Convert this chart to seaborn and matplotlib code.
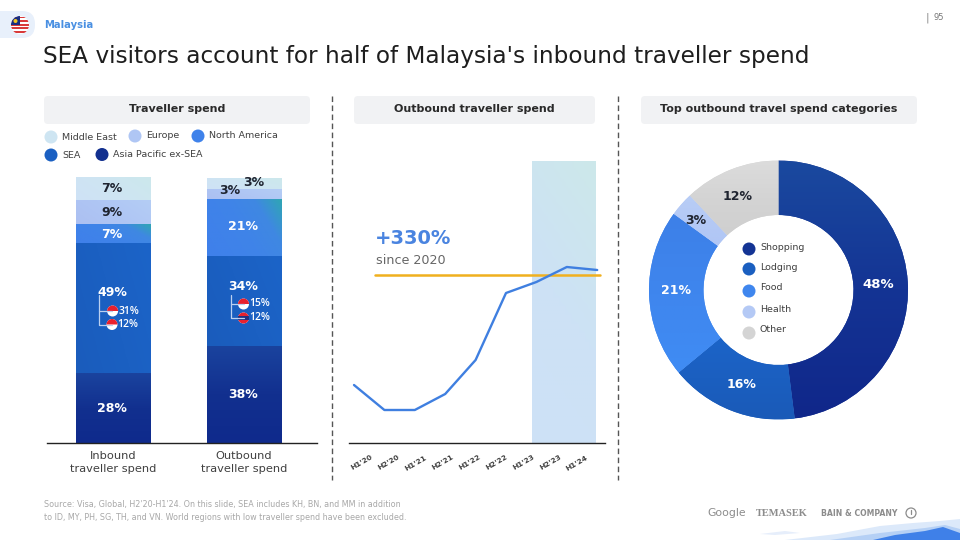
import matplotlib
matplotlib.use("Agg")
import matplotlib.pyplot as plt
from matplotlib.colors import LinearSegmentedColormap
from matplotlib.patches import Circle, FancyBboxPatch, Wedge, Polygon, Rectangle
import numpy as np
import pandas as pd
import seaborn as sns

# stacked bars, heights (labels are the printed numbers)
bar_cats = ["Inbound\ntraveller spend", "Outbound\ntraveller spend"]
regions = ["Asia Pacific ex-SEA", "SEA", "North America", "Europe", "Middle East"]
inbound = [26.3, 48.9, 7.1, 9.0, 8.7]
outbound = [36.5, 33.8, 21.4, 3.8, 4.1]
inbound_labels = ["28%", "49%", "7%", "9%", "7%"]
outbound_labels = ["38%", "34%", "21%", "3%", "3%"]

# line chart, index values
periods = ["H1'20", "H2'20", "H1'21", "H2'21", "H1'22", "H2'22", "H1'23", "H2'23", "H1'24"]
spend = [58, 33, 33, 49, 83, 150, 161, 176, 173]

# donut
categories = ["Shopping", "Lodging", "Food", "Health", "Other"]
shares = [48, 16, 21, 3, 12]

sns.set_theme(style="white")
plt.rcParams["font.family"] = ["DejaVu Sans"]

region_colors = {
    "Asia Pacific ex-SEA": ["#0F2A8C", "#12308F", "#1A439E"],
    "SEA": ["#1A5CBC", "#1B60C2", "#1C64C8"],
    "North America": ["#3F80EA", "#3F82EA", "#3F84E8", "#3F88E2", "#2FA6B4"],
    "Europe": ["#ACC0F2", "#AFC6F4", "#B4CDF5"],
    "Middle East": ["#CFE2F6", "#CEE5F2", "#CCE8EC"],
}
donut_colors = [
    ["#10278A", "#143494", "#1A499F"],
    ["#1A5AB8", "#1B5FC0", "#1C64C8"],
    ["#3F8CF4", "#3F86EE", "#3D80E8"],
    ["#B0C6F5", "#B4C9F5", "#B8CDF6"],
    ["#CFCFCF", "#D4D4D4", "#DCDCDC"],
]
dark = "#1F2430"
gray = "#404040"

fig = plt.figure(figsize=(9.6, 5.4), dpi=100)
W, H = 960, 540


def px_axes(x0, y0, x1, y1):
    # axes placed by pixel box, y measured from the top
    ax = fig.add_axes([x0 / W, 1 - y1 / H, (x1 - x0) / W, (y1 - y0) / H])
    ax.patch.set_alpha(0)
    return ax


def gradient(ax, patch, colors, angle=90):
    # fills a patch with a linear gradient, angle 0 = left to right, 90 = bottom to top
    bb = patch.get_path().get_extents(patch.get_patch_transform())
    xx, yy = np.meshgrid(np.linspace(0, 1, 64), np.linspace(0, 1, 64))
    a = np.deg2rad(angle)
    t = xx * np.cos(a) + yy * np.sin(a)
    t = (t - t.min()) / (t.max() - t.min())
    cmap = LinearSegmentedColormap.from_list("g", colors)
    xl, yl = ax.get_xlim(), ax.get_ylim()
    im = ax.imshow(t, cmap=cmap, origin="lower", aspect="auto", vmin=0, vmax=1,
                   extent=[bb.x0, bb.x1, bb.y0, bb.y1], zorder=2)
    im.set_clip_path(patch)
    ax.set_xlim(xl)
    ax.set_ylim(yl)
    return im


# ---- stacked bars
ax1 = px_axes(47, 170, 317, 443)
bottoms = np.zeros(2)
for i, reg in enumerate(regions):
    vals = [inbound[i], outbound[i]]
    part = pd.DataFrame({"cat": bar_cats, "val": vals})
    n_before = len(ax1.patches)
    sns.barplot(data=part, x="cat", y="val", bottom=bottoms, color="#1B60C2", width=0.565,
                errorbar=None, ax=ax1, saturation=1)
    ax1.set_xlim(-0.504, 1.557)
    ax1.set_ylim(0, 273 / 2.66)
    for p in ax1.patches[n_before:]:
        p.set_linewidth(0)
        gradient(ax1, p, region_colors[reg], 90 if i == 0 else 25)
    bottoms = bottoms + np.array(vals)
ax1.set_xlabel("")
ax1.set_ylabel("")
ax1.set_yticks([])
ax1.set_xticks([0, 1])
ax1.set_xticklabels(bar_cats, fontsize=8.2, color=gray, linespacing=1.35)
ax1.tick_params(axis="x", length=0, pad=6)
for s in ["top", "right", "left"]:
    ax1.spines[s].set_visible(False)
ax1.spines["bottom"].set_color("#222222")
ax1.spines["bottom"].set_linewidth(1)

# ---- line chart
ax2 = px_axes(349, 150, 605, 443)
x_pos = np.arange(len(periods))
ax2.set_xlim((349 - 354) / 30.4, (605 - 354) / 30.4)
ax2.set_ylim(0, 293)
xl, yl = ax2.get_xlim(), ax2.get_ylim()
xx, yy = np.meshgrid(np.linspace(0, 1, 32), np.linspace(0, 1, 32))
band_cmap = LinearSegmentedColormap.from_list("band", ["#CDE1F7", "#CDE2F5", "#CCE8EA"])
ax2.imshow(0.25 * xx + 0.75 * yy, cmap=band_cmap, origin="lower", aspect="auto",
           extent=[5.855, 7.96, 0, 282], vmin=0, vmax=1, zorder=1)
ax2.set_xlim(xl)
ax2.set_ylim(yl)
sns.lineplot(x=x_pos, y=spend, color="#3F7FE0", linewidth=1.7, ax=ax2, zorder=4)
ax2.plot([(375 - 354) / 30.4, (600 - 354) / 30.4], [168, 168], color="#F0B01E", lw=1.8, zorder=3)
ax2.set_yticks([])
ax2.set_xticks(0.26 + x_pos * 26.9 / 30.4)
ax2.set_xticklabels(periods, rotation=30, fontsize=5.3, color=gray, fontweight="bold", ha="center")
ax2.tick_params(axis="x", length=0, pad=8)
for s in ["top", "right", "left"]:
    ax2.spines[s].set_visible(False)
ax2.spines["bottom"].set_color("#222222")
ax2.spines["bottom"].set_linewidth(1)
ax2.set_xlabel("")
ax2.set_ylabel("")

# ---- donut
ax3 = px_axes(649, 160.5, 908, 419.5)
wedges, _ = ax3.pie(shares, startangle=90, counterclock=False, radius=1,
                    wedgeprops=dict(width=1 - 75 / 129.5, linewidth=0), colors=[c[1] for c in donut_colors])
ax3.set_xlim(-1, 1)
ax3.set_ylim(-1, 1)
for w, c in zip(wedges, donut_colors):
    gradient(ax3, w, c, 90)

# ---- page furniture, in pixel coordinates
ov = fig.add_axes([0, 0, 1, 1], zorder=10)
ov.set_xlim(0, W)
ov.set_ylim(H, 0)
ov.axis("off")
ov.patch.set_alpha(0)


def txt(x, y, s, size=8, color=gray, weight="normal", ha="left", va="center", **kw):
    return ov.text(x, y, s, fontsize=size, color=color, fontweight=weight, ha=ha, va=va, **kw)


def half_flag(x, y, r, top="#E8212E", bottom="white"):
    ov.add_patch(Circle((x, y), r, fc=bottom, ec="none"))
    ov.add_patch(Wedge((x, y), r, 180, 360, fc=top, ec="none"))


# top left tag
ov.add_patch(FancyBboxPatch((-12, 11), 47, 27, boxstyle="round,pad=0,rounding_size=13",
                            fc="#E8F0FB", ec="none"))
flag_clip = Circle((20, 25), 9, fc="white", ec="none")
ov.add_patch(flag_clip)
for k in range(5):
    stripe = Rectangle((10, 16.5 + k * 3.6), 20, 1.8, fc="#D93A3A", ec="none")
    ov.add_patch(stripe)
    stripe.set_clip_path(flag_clip)
ov.add_patch(Rectangle((11, 16), 9, 9, fc="#1B2E80", ec="none", clip_path=flag_clip))
ov.add_patch(Circle((15.5, 21), 2, fc="#F3C623", ec="none"))
txt(44, 25, "Malaysia", size=7.2, color="#4A90E2", weight="bold")

txt(43, 57, "SEA visitors account for half of Malaysia's inbound traveller spend", size=16.7, color="#1E1E1E")
txt(927.5, 18, "|", size=8, color="#888888", ha="center")
txt(934, 18, "95", size=6, color="#777777")

# section headers and dashed dividers
for x0, x1, label in [(44, 310, "Traveller spend"), (354, 595, "Outbound traveller spend"),
                      (641, 917, "Top outbound travel spend categories")]:
    ov.add_patch(FancyBboxPatch((x0, 96), x1 - x0, 28, boxstyle="round,pad=0,rounding_size=4",
                                fc="#F1F2F4", ec="none"))
    txt((x0 + x1) / 2, 109, label, size=8, color="#2A2A2A", weight="bold", ha="center")
for x in [332, 618]:
    ov.plot([x, x], [96, 480], color="#555555", lw=1, ls=(0, (4, 2.5)))

# region legend
legend_pos = {"Middle East": (51, 137), "Europe": (135, 136), "North America": (198, 136),
              "SEA": (51, 155), "Asia Pacific ex-SEA": (102, 154.5)}
for reg, (x, y) in legend_pos.items():
    ov.add_patch(Circle((x, y), 6.5, fc=region_colors[reg][1], ec="none"))
    txt(x + 11, y, reg, size=6.8)

# bar value labels
light = {"Europe", "Middle East"}
in_y = [408, 293, 234, 212, 189]
out_y = [395, 286, 227, 191, 183]
out_x = [243, 243, 243, 230, 254]
for i, reg in enumerate(regions):
    c = dark if reg in light else "white"
    txt(112, in_y[i], inbound_labels[i], size=9, color=c, weight="bold", ha="center")
    txt(out_x[i], out_y[i], outbound_labels[i], size=9, color=c, weight="bold", ha="center")

# SEA breakdown inside the bars
for x0, top, flags in [(99, 295, [(112.6, 311, "31%", "half"), (112, 324.5, "12%", "half")]),
                       (230.5, 295, [(243.5, 304, "15%", "half"), (243.5, 318, "12%", "th")])]:
    ov.plot([x0, x0, x0 + 13], [top, flags[1][1], flags[1][1]], color="#BBD0F0", lw=0.9)
    ov.plot([x0, x0 + 13], [flags[0][1], flags[0][1]], color="#BBD0F0", lw=0.9)
    for fx, fy, lab, kind in flags:
        if kind == "half":
            half_flag(fx, fy, 5.5)
        else:
            ov.add_patch(Circle((fx, fy), 5.5, fc="white", ec="none"))
            ov.add_patch(Wedge((fx, fy), 5.5, 200, 340, fc="#E8212E", ec="none"))
            ov.add_patch(Wedge((fx, fy), 5.5, 20, 160, fc="#E8212E", ec="none"))
            ov.add_patch(Polygon([(fx - 5.3, fy - 1.8), (fx + 5.3, fy - 1.8), (fx + 5.3, fy + 1.8), (fx - 5.3, fy + 1.8)],
                                 fc="#24307F", ec="none"))
        txt(fx + 5.5, fy, lab, size=7.5, color="white", family="Open Sans", weight="semibold")

# line chart callout
txt(375, 238.5, "+330%", size=14, color="#4A84E0", weight="bold")
txt(376, 261, "since 2020", size=9.2, color="#666666")

# donut labels and inner legend
donut_xy = [(878, 284), (742, 385), (676, 291), (696, 220), (738, 196)]
for (x, y), s, share in zip(donut_xy, shares, shares):
    c = dark if s in (3, 12) else "white"
    txt(x, y, f"{share}%", size=9.5 if s == 48 else 9, color=c, weight="bold", ha="center")
inner_y = [249, 269, 291, 312, 333]
inner_t = [248, 267, 288, 309, 329]
for cat, y, ty, col in zip(categories, inner_y, inner_t, donut_colors):
    ov.add_patch(Circle((749, y), 6.5, fc=col[1], ec="none"))
    txt(760, ty, cat, size=6.8)

# source note
txt(44, 505, "Source: Visa, Global, H2'20-H1'24. On this slide, SEA includes KH, BN, and MM in addition", size=5.8, color="#A8A8A8")
txt(44, 517, "to ID, MY, PH, SG, TH, and VN. World regions with low traveller spend have been excluded.", size=5.8, color="#A8A8A8")

# partner names
txt(707, 513, "Google", size=7.8, color="#8C8C8C")
txt(756, 513, "TEMASEK", size=7.5, color="#8C8C8C", weight="bold", family="Liberation Serif")
txt(821, 513, "BAIN & COMPANY", size=5.6, color="#8C8C8C", weight="bold")
ov.add_patch(Circle((911, 513), 5, fc="none", ec="#8C8C8C", lw=0.9))
ov.plot([911, 911], [510, 514], color="#8C8C8C", lw=0.9)

# mountain strip, bottom right
ov.add_patch(Polygon([(760, 534), (785, 531), (800, 533), (775, 535)], fc="#E6EEFB", ec="none"))
ov.add_patch(Polygon([(785, 540), (837, 534), (880, 526), (913, 523), (940, 521), (960, 519), (960, 540)], fc="#DCE9FA", ec="none"))
ov.add_patch(Polygon([(830, 540), (880, 533), (925, 528), (945, 525), (960, 529), (960, 540)], fc="#B5D0F5", ec="none"))
ov.add_patch(Polygon([(873, 540), (895, 535), (925, 531), (943, 527), (960, 533), (960, 540)], fc="#3F80E8", ec="none"))

fig.savefig("out.png", dpi=100)
